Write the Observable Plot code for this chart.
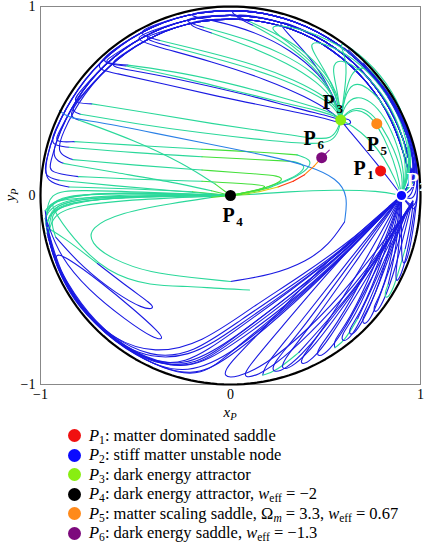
<!DOCTYPE html>
<html><head><meta charset="utf-8">
<script src="https://cdn.jsdelivr.net/npm/d3@7"></script>
<script src="https://cdn.jsdelivr.net/npm/@observablehq/plot@0.6"></script>
<style>
body{margin:0;background:#fff;font-family:"Liberation Serif",serif;}
#chart svg{display:block}
#legend{margin-left:68px;margin-top:1px;font-family:"Liberation Serif",serif;}
.row{height:19.5px;display:flex;align-items:center;font-size:16.5px;color:#000;white-space:nowrap}
.sw{width:13px;height:13px;border-radius:50%;margin-right:8px;flex:none}
sub{font-size:70%;vertical-align:-0.3em;line-height:0}
</style></head><body><div id="chart"></div><div id="legend"></div>
<script>
// ---- fixed points ----
const pointNames = ["1","2","3","4","5","6"];
const pointX = [0.79, 0.90, 0.58, 0.00, 0.77, 0.48];
const pointY = [0.13, 0.00, 0.40, 0.00, 0.38, 0.20];
const legendLabels = [
  "<i>P</i><sub>1</sub>: matter dominated saddle",
  "<i>P</i><sub>2</sub>: stiff matter unstable node",
  "<i>P</i><sub>3</sub>: dark energy attractor",
  "<i>P</i><sub>4</sub>: dark energy attractor, <i>w</i><sub>eff</sub> = −2",
  "<i>P</i><sub>5</sub>: matter scaling saddle, Ω<sub><i>m</i></sub> = 3.3, <i>w</i><sub>eff</sub> = 0.67",
  "<i>P</i><sub>6</sub>: dark energy saddle, <i>w</i><sub>eff</sub> = −1.3"
];
const xTicks = [-1, 0, 1];
const yTicks = [-1, 0, 1];

// ---- boundary-hugging paths (P2 -> counter-clockwise) ----
const arcA = [[0.9,0],[0.96,0.07],[0.975,0.17],[0.9,0.418],[0.76,0.638],[0.568,0.81],[0.337,0.93],[0.087,0.985],[-0.171,0.975],[-0.418,0.9],[-0.638,0.76],[-0.81,0.568],[-0.93,0.337],[-0.975,0.171]];
const arcB = [[0.9,0],[0.955,0.07],[0.95,0.17],[0.875,0.41],[0.74,0.62],[0.555,0.79],[0.33,0.905],[0.084,0.96],[-0.17,0.95],[-0.41,0.875],[-0.62,0.74],[-0.79,0.555],[-0.905,0.33],[-0.95,0.17]];
const arcC = [[0.9,0],[0.95,0.07],[0.93,0.165],[0.855,0.4],[0.725,0.605],[0.54,0.775],[0.325,0.89],[0.082,0.94],[-0.165,0.93],[-0.4,0.855],[-0.605,0.725],[-0.775,0.54],[-0.89,0.325],[-0.93,0.165]];

// dense blue rim band right of P2 and up the right side
const rimBand = [
  [[0.9,0],[0.95,0.02],[0.985,0.1],[0.96,0.28],[0.9,0.43],[0.8,0.58]],
  [[0.9,0],[0.96,-0.03],[0.985,0.04],[0.98,0.2],[0.93,0.36],[0.84,0.53],[0.7,0.7]],
  [[0.9,0],[0.95,-0.06],[0.98,-0.05],[0.99,0.08],[0.97,0.25],[0.91,0.41],[0.8,0.6],[0.62,0.77]],
  [[0.9,0],[0.94,-0.02],[0.97,0.05],[0.975,0.15],[0.94,0.32],[0.87,0.47],[0.75,0.64]],
  [[0.9,0],[0.93,0.04],[0.965,0.12],[0.955,0.24],[0.91,0.38],[0.83,0.52]],
  [[0.9,0],[0.97,-0.1],[0.985,-0.02],[0.985,0.12],[0.95,0.3],[0.88,0.46],[0.76,0.63],[0.6,0.78]]
];
// trajectories over the top into P3
const upperToP3 = [
  [...arcA.slice(0,8), [-0.03,0.975],[0.1,0.92],[0.3,0.83],[0.45,0.71],[0.54,0.59],[0.575,0.49],[0.58,0.4]],
  [...arcB.slice(0,9), [-0.26,0.925],[-0.14,0.89],[0.08,0.83],[0.28,0.75],[0.44,0.65],[0.54,0.54],[0.58,0.4]],
  [...arcA.slice(0,10), [-0.5,0.855],[-0.37,0.82],[-0.12,0.76],[0.14,0.69],[0.34,0.61],[0.49,0.53],[0.565,0.46],[0.58,0.4]],
  [...arcC.slice(0,10), [-0.47,0.83],[-0.32,0.79],[-0.02,0.71],[0.24,0.63],[0.44,0.54],[0.55,0.47],[0.58,0.4]],
  [...arcB.slice(0,11), [-0.68,0.7],[-0.54,0.69],[-0.25,0.65],[0.05,0.58],[0.3,0.51],[0.47,0.46],[0.55,0.43],[0.58,0.4]],
  [...arcB.slice(0,12), [-0.84,0.49],[-0.73,0.485],[-0.45,0.44],[-0.1,0.38],[0.25,0.33],[0.45,0.3],[0.53,0.3],[0.565,0.35],[0.58,0.4]],
  [...arcC.slice(0,12), [-0.85,0.45],[-0.79,0.43],[-0.5,0.38],[-0.15,0.33],[0.2,0.29],[0.44,0.27],[0.535,0.285],[0.57,0.34],[0.58,0.4]],
  [...arcC.slice(0,9), [-0.24,0.905],[-0.1,0.86],[0.1,0.79],[0.3,0.7],[0.46,0.6],[0.55,0.5],[0.58,0.4]],
  [...arcA.slice(0,11), [-0.69,0.7],[-0.55,0.685],[-0.28,0.63],[0,0.56],[0.28,0.49],[0.46,0.45],[0.55,0.42],[0.58,0.4]],
  [...arcB.slice(0,8), [0.0,0.955],[0.12,0.9],[0.3,0.8],[0.44,0.68],[0.53,0.56],[0.58,0.4]]
];
const upperBlue = [
  [...arcA.slice(0,11), [-0.72,0.67],[-0.62,0.65],[-0.35,0.59],[-0.05,0.52],[0.25,0.46],[0.45,0.42],[0.56,0.39],[0.62,0.37],[0.64,0.39],[0.61,0.41],[0.58,0.4]],
  [...arcB.slice(0,10), [-0.52,0.83],[-0.4,0.79],[-0.1,0.71],[0.2,0.61],[0.4,0.52],[0.52,0.45],[0.58,0.4]],
  [...arcA.slice(0,9), [-0.23,0.95],[-0.08,0.925],[0.12,0.87],[0.32,0.77],[0.47,0.64],[0.55,0.52],[0.58,0.4]],
  [...arcB.slice(0,7), [0.24,0.925],[0.3,0.86],[0.42,0.73],[0.52,0.58],[0.58,0.4]],
  [...arcC.slice(0,11), [-0.64,0.68],[-0.5,0.66],[-0.2,0.6],[0.1,0.53],[0.35,0.46],[0.52,0.42],[0.58,0.4]]
];
// trajectories over the top, down the left side, into P4
const leftToP4 = [
  [...arcB.slice(0,13), [-0.93,0.28],[-0.82,0.285],[-0.5,0.265],[-0.15,0.245],[0.15,0.23],[0.35,0.215],[0.43,0.19],[0.41,0.14],[0.33,0.09],[0.2,0.04],[0.08,0.01],[0,0]],
  [...arcA.slice(0,13), [-0.95,0.265],[-0.85,0.255],[-0.5,0.225],[-0.15,0.205],[0.15,0.19],[0.33,0.18],[0.4,0.16],[0.37,0.12],[0.3,0.08],[0.15,0.03],[0,0]],
  [...arcC.slice(0,13), [-0.915,0.22],[-0.83,0.19],[-0.5,0.16],[-0.15,0.135],[0.12,0.115],[0.26,0.105],[0.28,0.08],[0.2,0.045],[0.1,0.02],[0,0]],
  [...arcB.slice(0,14), [-0.955,0.12],[-0.8,0.1],[-0.5,0.085],[-0.15,0.075],[0.12,0.06],[0.2,0.05],[0.15,0.03],[0.05,0.01],[0,0]],
  [...arcA.slice(0,14), [-0.975,0.07],[-0.85,0.045],[-0.5,0.035],[-0.2,0.02],[0,0]],
  [...arcC.slice(0,12), [-0.86,0.42],[-0.8,0.4],[-0.5,0.29],[-0.25,0.17],[-0.08,0.06],[0,0]],
  [...arcB.slice(0,13), [-0.945,0.2],[-0.88,0.17],[-0.6,0.12],[-0.3,0.07],[-0.1,0.025],[0,0]],
  [...arcA.slice(0,14), [-0.98,0.1],[-0.9,0.08],[-0.6,0.05],[-0.3,0.025],[0,0]]
];
// green band from P2 up the right side into P3 (and other green runs)
const greenBand = [
  [[0.9,0],[0.93,0.12],[0.9,0.3],[0.82,0.47],[0.72,0.58],[0.64,0.6],[0.6,0.52],[0.58,0.4]],
  [[0.9,0],[0.94,0.13],[0.91,0.32],[0.83,0.5],[0.7,0.66],[0.57,0.73],[0.53,0.68],[0.565,0.55],[0.58,0.4]],
  [[0.9,0],[0.95,0.15],[0.92,0.34],[0.84,0.52],[0.69,0.7],[0.52,0.8],[0.4,0.82],[0.46,0.72],[0.55,0.57],[0.58,0.4]],
  [[0.9,0],[0.95,0.16],[0.93,0.35],[0.85,0.53],[0.7,0.71],[0.5,0.84],[0.3,0.9],[0.18,0.9],[0.32,0.8],[0.48,0.66],[0.56,0.53],[0.58,0.4]],
  [[0.9,0],[0.92,0.1],[0.88,0.27],[0.81,0.42],[0.74,0.5],[0.66,0.53],[0.6,0.48],[0.58,0.4]],
  [[0.9,0],[0.91,0.1],[0.86,0.25],[0.8,0.36],[0.74,0.44],[0.67,0.47],[0.61,0.44],[0.58,0.4]],
  [[0.9,0],[0.955,0.16],[0.935,0.36],[0.86,0.55],[0.72,0.72],[0.55,0.84],[0.62,0.72],[0.6,0.55],[0.58,0.4]],
  [[0.9,0],[0.96,0.16],[0.94,0.33],[0.88,0.5],[0.78,0.63],[0.7,0.69],[0.63,0.65],[0.6,0.52],[0.58,0.4]],
  [[0.9,0],[0.87,0.08],[0.81,0.2],[0.73,0.3],[0.64,0.37],[0.58,0.4]],
  [[0.9,0],[0.88,0.12],[0.83,0.26],[0.78,0.36],[0.72,0.44],[0.64,0.46],[0.58,0.4]],
  [[0.9,0],[0.78,0.025],[0.55,0.03],[0.3,0.02],[0.1,0.005],[0,0]],
  [[0.1,-0.5],[-0.1,-0.49],[-0.21,-0.48],[-0.42,-0.48],[-0.65,-0.41],[-0.83,-0.23],[-0.95,-0.05],[-0.93,-0.03],[-0.8,-0.01],[-0.4,0],[0,0]]
];
const directBlue = [
  [[0.9,0],[0.84,0.08],[0.76,0.18],[0.67,0.29],[0.61,0.36],[0.58,0.4]]
];
// long light-blue trajectory looping below into P4
const spiral = [
  [[-0.9,0.45],[-0.86,0.41],[-0.7,0.39],[-0.4,0.33],[-0.1,0.27],[0.2,0.21],[0.42,0.155],[0.56,0.09],[0.62,0],[0.6,-0.14],[0.52,-0.26],[0.4,-0.35],[0.22,-0.42],[0,-0.455],[-0.2,-0.435],[-0.42,-0.41],[-0.62,-0.34],[-0.74,-0.25],[-0.74,-0.17],[-0.58,-0.09],[-0.3,-0.04],[-0.1,-0.01],[0,0]]
];
// heteroclinic P6 -> P4
const p6Path = [[0.52,0.24],[0.48,0.2],[0.44,0.155],[0.39,0.11],[0.33,0.075],[0.25,0.045],[0.15,0.02],[0.06,0.005],[0,0]];
// fan from P2 along the bottom, up the left side into P4
const lowerToP4 = [
  [[0.9,0],[0.6,-0.3],[0.3,-0.56],[0,-0.78],[-0.2,-0.92],[-0.42,-0.88],[-0.62,-0.76],[-0.78,-0.6],[-0.9,-0.4],[-0.955,-0.2],[-0.95,-0.06],[-0.8,-0.015],[-0.4,0],[0,0]],
  [[0.9,0],[0.62,-0.27],[0.32,-0.5],[0.02,-0.72],[-0.25,-0.91],[-0.45,-0.87],[-0.66,-0.74],[-0.81,-0.57],[-0.92,-0.37],[-0.965,-0.17],[-0.96,-0.08],[-0.75,-0.02],[-0.4,0],[0,0]],
  [[0.9,0],[0.6,-0.32],[0.28,-0.6],[0,-0.83],[-0.15,-0.96],[-0.35,-0.925],[-0.57,-0.8],[-0.75,-0.64],[-0.88,-0.45],[-0.95,-0.27],[-0.975,-0.12],[-0.93,-0.03],[-0.6,0.01],[0,0]],
  [[0.9,0],[0.65,-0.24],[0.35,-0.46],[0.05,-0.66],[-0.2,-0.84],[-0.42,-0.86],[-0.64,-0.74],[-0.8,-0.58],[-0.91,-0.4],[-0.97,-0.16],[-0.975,-0.03],[-0.7,0.02],[-0.3,0.01],[0,0]],
  [[0.9,0],[0.58,-0.34],[0.25,-0.65],[-0.02,-0.87],[-0.2,-0.965],[-0.45,-0.88],[-0.68,-0.72],[-0.85,-0.52],[-0.94,-0.32],[-0.97,-0.15],[-0.97,-0.01],[-0.6,0.02],[0,0]],
  [[0.9,0],[0.63,-0.26],[0.34,-0.48],[0.04,-0.69],[-0.22,-0.87],[-0.5,-0.85],[-0.7,-0.7],[-0.84,-0.52],[-0.93,-0.33],[-0.97,-0.13],[-0.96,0.02],[-0.8,0.03],[-0.4,0.015],[0,0]],
  [[0.9,0],[0.61,-0.29],[0.3,-0.54],[0.01,-0.76],[-0.18,-0.9],[-0.4,-0.9],[-0.6,-0.78],[-0.77,-0.62],[-0.9,-0.42],[-0.96,-0.22],[-0.94,-0.1],[-0.8,-0.05],[-0.5,-0.02],[0,0]],
  [[0.9,0],[0.66,-0.22],[0.38,-0.42],[0.1,-0.6],[-0.15,-0.78],[-0.4,-0.84],[-0.62,-0.76],[-0.8,-0.6],[-0.91,-0.4],[-0.965,-0.2],[-0.965,-0.05],[-0.7,0],[0,0]],
  [[0.9,0],[0.59,-0.33],[0.27,-0.62],[-0.01,-0.85],[-0.25,-0.955],[-0.5,-0.855],[-0.72,-0.685],[-0.87,-0.48],[-0.95,-0.28],[-0.975,-0.08],[-0.9,0.01],[-0.5,0.01],[0,0]],
  [[0.9,0],[0.6,-0.31],[0.3,-0.58],[0,-0.8],[-0.22,-0.93],[-0.48,-0.86],[-0.7,-0.7],[-0.86,-0.48],[-0.95,-0.28],[-0.965,-0.17],[-0.88,-0.22],[-0.7,-0.36],[-0.52,-0.5],[-0.42,-0.57],[-0.4,-0.6],[-0.46,-0.6],[-0.6,-0.52],[-0.78,-0.38],[-0.92,-0.22],[-0.96,-0.1],[-0.85,-0.03],[-0.5,-0.005],[0,0]],
  [[0.9,0],[0.62,-0.28],[0.31,-0.53],[0,-0.77],[-0.25,-0.92],[-0.5,-0.845],[-0.72,-0.67],[-0.87,-0.45],[-0.94,-0.3],[-0.87,-0.32],[-0.68,-0.46],[-0.5,-0.61],[-0.38,-0.72],[-0.35,-0.76],[-0.4,-0.76],[-0.55,-0.66],[-0.75,-0.5],[-0.9,-0.32],[-0.965,-0.14],[-0.92,-0.04],[-0.6,-0.01],[0,0]]
];
// hairpins from P2 down to the lower-right boundary
const lowerRight = [
  [[0.9,0],[0.5,-0.35],[0.18,-0.7],[-0.02,-0.9],[-0.04,-0.96],[0.03,-0.965],[0.18,-0.9],[0.4,-0.72],[0.65,-0.45],[0.85,-0.18],[0.96,-0.05]],
  [[0.9,0],[0.55,-0.36],[0.25,-0.72],[0.08,-0.92],[0.07,-0.965],[0.14,-0.955],[0.27,-0.87],[0.47,-0.68],[0.7,-0.42],[0.87,-0.17],[0.96,-0.05]],
  [[0.9,0],[0.6,-0.37],[0.33,-0.72],[0.18,-0.9],[0.17,-0.95],[0.24,-0.93],[0.36,-0.83],[0.54,-0.63],[0.74,-0.38],[0.88,-0.15],[0.96,-0.04]],
  [[0.9,0],[0.62,-0.37],[0.37,-0.72],[0.22,-0.89],[0.22,-0.94],[0.29,-0.92],[0.4,-0.82],[0.57,-0.6],[0.76,-0.36],[0.89,-0.14],[0.96,-0.04]],
  [[0.9,0],[0.64,-0.38],[0.4,-0.72],[0.27,-0.88],[0.27,-0.925],[0.33,-0.905],[0.44,-0.8],[0.6,-0.58],[0.77,-0.34],[0.89,-0.13],[0.96,-0.04]],
  [[0.9,0],[0.68,-0.4],[0.48,-0.72],[0.37,-0.86],[0.37,-0.9],[0.43,-0.87],[0.52,-0.76],[0.66,-0.53],[0.8,-0.3],[0.9,-0.12],[0.96,-0.03]],
  [[0.9,0],[0.72,-0.4],[0.55,-0.7],[0.45,-0.82],[0.46,-0.86],[0.52,-0.82],[0.6,-0.71],[0.71,-0.5],[0.83,-0.27],[0.91,-0.1],[0.96,-0.03]],
  [[0.9,0],[0.75,-0.4],[0.62,-0.67],[0.54,-0.77],[0.55,-0.805],[0.6,-0.77],[0.67,-0.65],[0.76,-0.46],[0.85,-0.25],[0.92,-0.09],[0.96,-0.03]],
  [[0.9,0],[0.77,-0.39],[0.65,-0.65],[0.58,-0.74],[0.59,-0.78],[0.64,-0.745],[0.7,-0.63],[0.78,-0.44],[0.86,-0.24],[0.93,-0.08]],
  [[0.9,0],[0.79,-0.38],[0.68,-0.63],[0.62,-0.71],[0.63,-0.745],[0.67,-0.71],[0.73,-0.6],[0.8,-0.42],[0.87,-0.23],[0.93,-0.08]],
  [[0.9,0],[0.82,-0.36],[0.74,-0.58],[0.69,-0.65],[0.7,-0.69],[0.74,-0.65],[0.78,-0.55],[0.84,-0.38],[0.9,-0.2],[0.94,-0.07]],
  [[0.9,0],[0.85,-0.33],[0.79,-0.53],[0.75,-0.59],[0.76,-0.625],[0.79,-0.59],[0.83,-0.5],[0.88,-0.34],[0.92,-0.18],[0.95,-0.06]],
  [[0.9,0],[0.87,-0.3],[0.83,-0.47],[0.81,-0.52],[0.82,-0.55],[0.85,-0.51],[0.88,-0.42],[0.92,-0.28],[0.95,-0.14],[0.96,-0.05]],
  [[0.9,0],[0.89,-0.25],[0.87,-0.4],[0.87,-0.46],[0.89,-0.44],[0.92,-0.35],[0.95,-0.2],[0.97,-0.06]],
  [[0.9,0],[0.9,-0.2],[0.9,-0.32],[0.91,-0.37],[0.93,-0.34],[0.95,-0.25],[0.97,-0.12],[0.98,-0.02]]
];

// ---- styling ----
const BLUE="#1a1ae2", LBLUE="#2a80e6", AQUA="#2ad89a", LIME="#44e03a";
const pointColors = ["#f01010","#0a0aff","#88ee11","#000000","#ff8a1a","#7d0a7d"];
const p6Colors = ["#8a1aa0","#ff9a10","#ff8010","#ff2a10","#ff4010","#e0d010","#90e020","#50e030","#44e03a"];
const rimGreen = new Set([2,7,12]);
const labelOff = [[-21,-2,-10,4],[11,-15,21,-9],[-12,-17,-1,-11],[-2,20,9,26],[-4,21,7,27],[-12,-19,-1,-13]];

function colorFor(mode, x, y, i) {
  const r = Math.hypot(x, y);
  let c;
  if (mode === "blue") return BLUE;
  if (mode === "rim") return (r > 0.945 && y < -0.3) ? AQUA : BLUE;
  if (mode === "radial") c = r >= 0.93 ? BLUE : AQUA;
  else if (mode === "tail") c = (y > -0.25 && x < 0.5) ? AQUA : BLUE;
  else if (mode === "green") c = AQUA;
  else if (mode === "spiral") c = i < 9 ? LBLUE : i < 13 ? BLUE : AQUA;
  if (c === AQUA && r < 0.3) c = LIME;
  return c;
}
const rows = [];
function addFamily(name, curves, modeFn) {
  curves.forEach((pts, ci) => {
    const mode = typeof modeFn === "function" ? modeFn(ci) : modeFn;
    pts.forEach(([x, y], i) => rows.push({x, y, id: name + ci, color: colorFor(mode, x, y, i)}));
  });
}
addFamily("lr", lowerRight, ci => rimGreen.has(ci) ? "rim" : "blue");
addFamily("ll", lowerToP4, "tail");
addFamily("ub", upperBlue, "blue");
addFamily("up", upperToP3, "radial");
addFamily("lp", leftToP4, "radial");
addFamily("db", directBlue, "blue");
addFamily("gb", greenBand, "green");
addFamily("rb", rimBand, "blue");
addFamily("sp", spiral, "spiral");
p6Path.forEach(([x, y], i) => rows.push({x, y, id: "p6", color: p6Colors[i]}));

const circle = d3.range(0, 361, 2).map(a => ({x: Math.cos(a * Math.PI / 180), y: Math.sin(a * Math.PI / 180)}));
const idx = pointNames.map((_, i) => i);

const labelMarks = [];
idx.forEach(i => {
  const fill = i === 1 ? "white" : "black";
  labelMarks.push(Plot.text([i], {x: j => pointX[j], y: j => pointY[j], text: () => "P", dx: labelOff[i][0], dy: labelOff[i][1], fontSize: 20, fontWeight: "bold", fill, fontFamily: "Liberation Serif"}));
  labelMarks.push(Plot.text([i], {x: j => pointX[j], y: j => pointY[j], text: j => pointNames[j], dx: labelOff[i][2], dy: labelOff[i][3], fontSize: 13, fontWeight: "bold", fill, fontFamily: "Liberation Serif"}));
});

const chart = Plot.plot({
  width: 425, height: 425,
  marginLeft: 40, marginRight: 5, marginTop: 6, marginBottom: 41,
  style: {fontFamily: "Liberation Serif", fontSize: "14px", background: "white", color: "black"},
  x: {domain: [-1, 1], ticks: xTicks, tickSize: 0, tickPadding: 5, label: null, tickFormat: d => d < 0 ? "−1" : String(d)},
  y: {domain: [-1, 1], ticks: yTicks, tickSize: 0, tickPadding: 5, label: null, tickFormat: d => d < 0 ? "−1" : String(d)},
  color: {type: "identity"},
  marks: [
    Plot.frame({stroke: "#888", strokeWidth: 1}),
    Plot.line(rows, {x: "x", y: "y", z: "id", stroke: "color", strokeWidth: 1.1, curve: "basis"}),
    Plot.line(circle, {x: "x", y: "y", stroke: "black", strokeWidth: 2.2}),
    Plot.dot(idx, {x: i => pointX[i], y: i => pointY[i], r: 5.5, fill: i => pointColors[i], stroke: i => i === 1 ? "white" : "none", strokeWidth: 1.8}),
    ...labelMarks
  ]
});
document.getElementById("chart").appendChild(chart);

const sx = chart.scale("x"), sy = chart.scale("y");
const svg = d3.select(chart);
svg.append("text").attr("x", sx.apply(0)).attr("y", 417).attr("text-anchor", "middle")
  .attr("font-family", "Liberation Serif").attr("font-size", 15).attr("font-style", "italic")
  .html('x<tspan font-size="10.5" dy="3">P</tspan>');
svg.append("text").attr("transform", `translate(15,${sy.apply(0)}) rotate(-90)`).attr("text-anchor", "middle")
  .attr("font-family", "Liberation Serif").attr("font-size", 15).attr("font-style", "italic")
  .html('y<tspan font-size="10.5" dy="3">P</tspan>');

const legend = d3.select("#legend");
legendLabels.forEach((lab, i) => {
  const row = legend.append("div").attr("class", "row");
  row.append("span").attr("class", "sw").style("background", pointColors[i]);
  row.append("span").html(lab);
});
</script></body></html>
